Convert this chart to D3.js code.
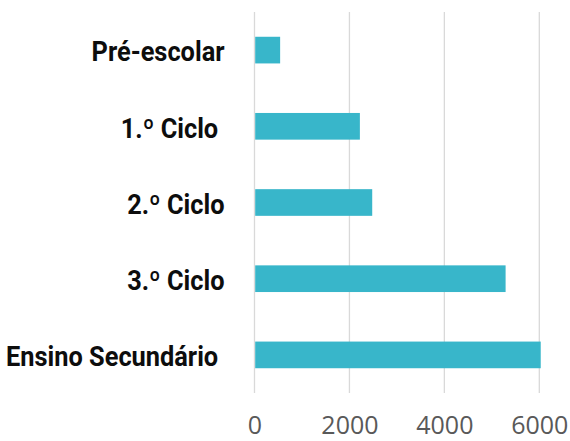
<!DOCTYPE html>
<html lang="pt">
<head>
    <meta charset="utf-8">
    <title>Alunos por nível de ensino</title>
    <style>
    html, body {
        margin: 0;
        background-color: white;
    }

    svg {
        display: block;
        background-color: white;
    }

    .grid line {
        stroke: #d9d9d9;
        stroke-width: 1.3px;
    }

    .x.axis text {
        font-family: 'Open Sans', sans-serif;
        font-size: 25px;
        fill: #595959;
    }

    .y.axis text {
        font-family: 'Roboto', sans-serif;
        font-weight: 700;
        font-size: 27px;
        fill: #0d0d0d;
        white-space: pre;
    }

    .bar {
        fill: #38b6ca;
    }
    </style>
</head>
<body>
    <div id="vis"></div>

    <script src="https://d3js.org/d3.v7.min.js"></script>
    <script>
var categories = ['Pré-escolar', '1.º Ciclo ', '2.º Ciclo', '3.º Ciclo', 'Ensino Secundário '];
var values = [540, 2220, 2480, 5290, 6030];
var ticks = [0, 2000, 4000, 6000];

var width = 570;
var height = 441;

var margin = {
    top: 12,
    bottom: 48,
    left: 254.5,
    right: 30.7
};

var svg = d3.select('#vis')
    .append('svg')
    .attr('width', width)
    .attr('height', height);

var data = categories.map(function(c, i) {
    return { name: c, value: values[i] };
});

var x_scale = d3.scaleLinear()
    .domain([0, 6000])
    .range([margin.left, width - margin.right]);

var y_scale = d3.scaleBand()
    .domain(categories)
    .range([margin.top, height - margin.bottom])
    .paddingInner(0.65)
    .paddingOuter(0.325);

// vertical gridlines
svg.append('g')
    .attr('class', 'grid')
    .selectAll('line')
    .data(ticks)
    .enter()
    .append('line')
    .attr('x1', function(d) { return x_scale(d); })
    .attr('x2', function(d) { return x_scale(d); })
    .attr('y1', margin.top)
    .attr('y2', height - margin.bottom);

svg.selectAll('.bar')
    .data(data)
    .enter()
    .append('rect')
    .attr('class', 'bar')
    .attr('x', x_scale(0) + 0.7)
    .attr('y', function(d) { return y_scale(d.name); })
    .attr('width', function(d) { return x_scale(d.value) - x_scale(0) - 0.7; })
    .attr('height', y_scale.bandwidth());

// tick labels under the plot
var x_axis = d3.axisBottom(x_scale)
    .tickValues(ticks)
    .tickSize(0)
    .tickPadding(0)
    .tickFormat(d3.format('d'));

svg.append('g')
    .attr('class', 'x axis')
    .attr('transform', 'translate(0,' + (height - margin.bottom) + ')')
    .call(x_axis)
    .call(function(g) { g.select('.domain').remove(); })
    .selectAll('text')
    .attr('dy', null)
    .attr('y', 40.5);

// category labels
var y_axis = d3.axisLeft(y_scale)
    .tickSize(0)
    .tickPadding(30);

svg.append('g')
    .attr('class', 'y axis')
    .attr('transform', 'translate(' + margin.left + ',0)')
    .call(y_axis)
    .call(function(g) { g.select('.domain').remove(); })
    .selectAll('text')
    .attr('dy', '0.42em')
    .attr('transform', function() {
        var x = +d3.select(this).attr('x');
        return 'translate(' + x + ',0) scale(0.94,1) translate(' + (-x) + ',0)';
    });
    </script>
</body>
</html>
